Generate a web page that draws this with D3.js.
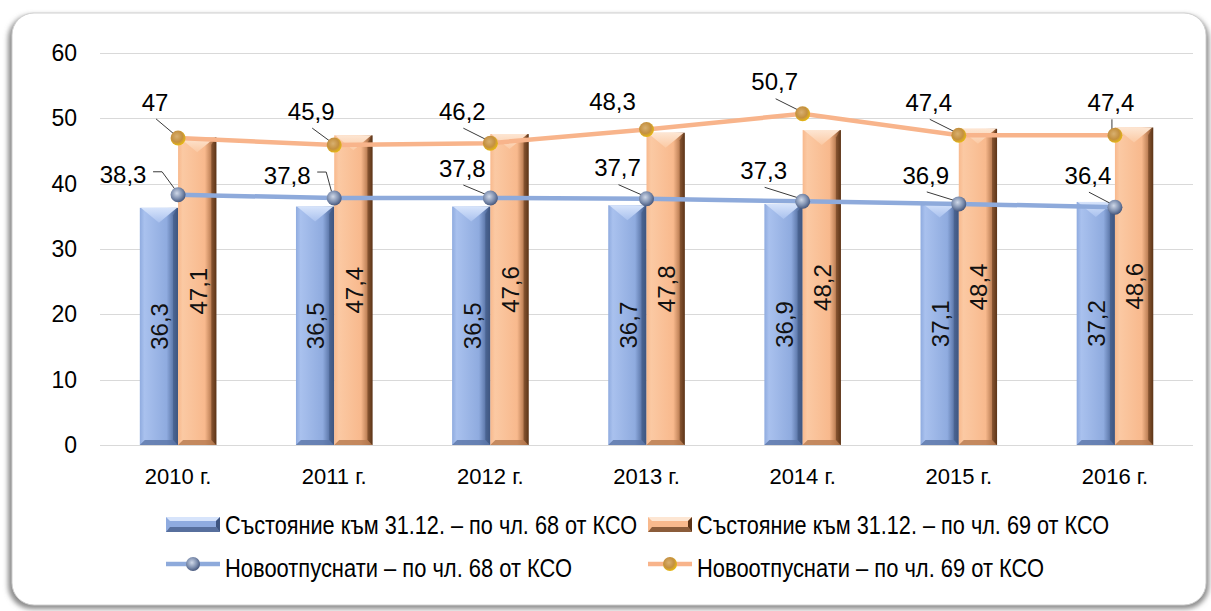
<!DOCTYPE html>
<html>
<head>
<meta charset="utf-8">
<script src="https://cdn.jsdelivr.net/npm/d3@7"></script>
<style>
  html, body { margin: 0; padding: 0; background: #fff; }
  svg { display: block; font-family: "Liberation Sans", Arial, sans-serif; }
</style>
</head>
<body>
<svg id="chart" width="1211" height="611"></svg>
<script>
// chart values
const years   = ["2010 г.", "2011 г.", "2012 г.", "2013 г.", "2014 г.", "2015 г.", "2016 г."];
const stock68 = [36.3, 36.5, 36.5, 36.7, 36.9, 37.1, 37.2];
const stock69 = [47.1, 47.4, 47.6, 47.8, 48.2, 48.4, 48.6];
const new68   = [38.3, 37.8, 37.8, 37.7, 37.3, 36.9, 36.4];
const new69   = [47, 45.9, 46.2, 48.3, 50.7, 47.4, 47.4];
const yTicks  = [0, 10, 20, 30, 40, 50, 60];
const legendNames = [
  "Състояние към 31.12. – по чл. 68 от КСО",
  "Състояние към 31.12. – по чл. 69 от КСО",
  "Новоотпуснати – по чл. 68 от КСО",
  "Новоотпуснати – по чл. 69 от КСО"
];

// label placement (offset of label centre from its marker), leader style
const off69 = [[-23,-36,"line"],[-23,-34,"line"],[-28,-32,"line"],[-34,-28,"none"],[-28,-32,"line"],[-30,-33,"line"],[-4,-33,"line"]];
const off68 = [[-55,-20,"hook"],[-47,-23,"hook"],[-28,-30,"line"],[-29,-31,"line"],[-39,-31,"line"],[-33,-29,"line"],[-27,-32,"line"]];

const fmt = v => String(v).replace(".", ",");

const svg = d3.select("#chart");
const defs = svg.append("defs");

// frame with soft shadow
const shadow = defs.append("filter").attr("id", "shadow")
  .attr("x", "-5%").attr("y", "-5%").attr("width", "110%").attr("height", "110%");
shadow.append("feGaussianBlur").attr("stdDeviation", 2.5);

svg.append("rect")
  .attr("x", 8).attr("y", 15).attr("width", 1201).attr("height", 594)
  .attr("rx", 24).attr("fill", "#8c8c8c").attr("filter", "url(#shadow)");
svg.append("rect")
  .attr("x", 12).attr("y", 13).attr("width", 1194).attr("height", 592)
  .attr("rx", 22).attr("fill", "#fff").attr("stroke", "#d0d0d0").attr("stroke-width", 1);

// scales
const y = d3.scaleLinear().domain([0, 60]).range([445, 53]);
const x = d3.scaleBand().domain(years).range([100, 1193]).padding(0);
const gw = x.bandwidth() * 0.49;
const x1 = d3.scaleBand().domain(["s68", "s69"])
  .range([x.bandwidth() / 2 - gw / 2, x.bandwidth() / 2 + gw / 2]);

// gridlines
svg.append("g").selectAll("line").data(yTicks).join("line")
  .attr("x1", 100).attr("x2", 1193)
  .attr("y1", d => Math.round(y(d)) + 0.5).attr("y2", d => Math.round(y(d)) + 0.5)
  .attr("stroke", "#d9d9d9").attr("stroke-width", 1);

// y axis labels
const yAxis = svg.append("g").attr("transform", "translate(100,0)")
  .call(d3.axisLeft(y).tickValues(yTicks).tickSize(0).tickPadding(23));
yAxis.select(".domain").remove();
yAxis.attr("font-size", 23).attr("font-family", "'Liberation Sans', Arial, sans-serif");
yAxis.selectAll("text").attr("fill", "#000");

// x axis labels
const xAxis = svg.append("g").attr("transform", "translate(0,445)")
  .call(d3.axisBottom(x).tickSize(0).tickPadding(23));
xAxis.select(".domain").remove();
xAxis.attr("font-size", 22).attr("font-family", "'Liberation Sans', Arial, sans-serif");
xAxis.selectAll("text").attr("fill", "#000");

// gradients for bars
const pal = {
  s68: { dark: "#3e5580", mid: "#8fabdf", light: "#a9c1ee", top: "#d7e4fb", bot: "#5b76a8" },
  s69: { dark: "#5c3417", mid: "#f8b98d", light: "#fbc9a3", top: "#fde6d3", bot: "#b77a50" }
};
Object.entries(pal).forEach(([k, c]) => {
  const g = defs.append("linearGradient").attr("id", "body-" + k)
    .attr("x1", 0).attr("x2", 1).attr("y1", 0).attr("y2", 0);
  g.append("stop").attr("offset", "0%").attr("stop-color", c.mid);
  g.append("stop").attr("offset", "12%").attr("stop-color", c.light);
  g.append("stop").attr("offset", "70%").attr("stop-color", c.mid);
  g.append("stop").attr("offset", "88%").attr("stop-color", c.bot);
  g.append("stop").attr("offset", "100%").attr("stop-color", c.dark);
  const t = defs.append("linearGradient").attr("id", "top-" + k)
    .attr("x1", 0).attr("x2", 0).attr("y1", 0).attr("y2", 1);
  t.append("stop").attr("offset", "0%").attr("stop-color", c.top);
  t.append("stop").attr("offset", "100%").attr("stop-color", c.light);
});

function bevelBar(g, k, bx, by, bw, bh, bt, bs) {
  const c = pal[k];
  g.append("rect").attr("x", bx).attr("y", by).attr("width", bw).attr("height", bh)
    .attr("fill", "url(#body-" + k + ")");
  // V shaped top face
  g.append("polygon")
    .attr("points", [[bx + 1, by], [bx + bw - 1, by], [bx + bw / 2, by + bt]].join(" "))
    .attr("fill", "url(#top-" + k + ")");
  // bottom bevel
  g.append("polygon")
    .attr("points", [[bx, by + bh], [bx + bw, by + bh], [bx + bw - bs, by + bh - bs], [bx + bs, by + bh - bs]].join(" "))
    .attr("fill", c.bot).attr("opacity", 0.8);
  // right edge
  g.append("polygon")
    .attr("points", [[bx + bw, by], [bx + bw, by + bh], [bx + bw - bs, by + bh - bs], [bx + bw - bs, by + bt * 0.5]].join(" "))
    .attr("fill", c.dark).attr("opacity", 0.55);
}

// bars
const barG = svg.append("g");
years.forEach((yr, i) => {
  [["s68", stock68[i]], ["s69", stock69[i]]].forEach(([k, v]) => {
    const bx = x(yr) + x1(k);
    bevelBar(barG, k, bx, y(v), x1.bandwidth(), y(0) - y(v), 15, 5);
    barG.append("text")
      .attr("transform", `translate(${bx + x1.bandwidth() / 2 + 1},${(y(v) + y(0)) / 2}) rotate(-90)`)
      .attr("text-anchor", "middle").attr("dy", "0.35em")
      .attr("font-size", 24).attr("fill", "#111")
      .text(fmt(v));
  });
});

// marker gradients
const mk = {
  n68: { c0: "#cfd8e8", c1: "#7d8eae", c2: "#44557a", line: "#8eaadb" },
  n69: { c0: "#d8b070", c1: "#c49040", c2: "#e8bb10", line: "#f8b48b" }
};
Object.entries(mk).forEach(([k, c]) => {
  const r = defs.append("radialGradient").attr("id", "mk-" + k)
    .attr("cx", "42%").attr("cy", "40%").attr("r", "62%");
  r.append("stop").attr("offset", "0%").attr("stop-color", c.c0);
  r.append("stop").attr("offset", "60%").attr("stop-color", c.c1);
  r.append("stop").attr("offset", "100%").attr("stop-color", c.c2);
});

const cx = i => x(years[i]) + x.bandwidth() / 2;
const line = d3.line().x((d, i) => cx(i)).y(d => y(d));

function drawSeries(vals, k, offs) {
  const g = svg.append("g");
  g.append("path").datum(vals).attr("d", line)
    .attr("fill", "none").attr("stroke", mk[k].line).attr("stroke-width", 4.5);
  vals.forEach((v, i) => {
    const px = cx(i), py = y(v);
    const [dx, dy, kind] = offs[i];
    const lx = px + dx, ly = py + dy;
    if (kind === "line") {
      g.append("line").attr("x1", lx + 1).attr("y1", ly + 17).attr("x2", px - 3).attr("y2", py - 3)
        .attr("stroke", "#3a3a3a").attr("stroke-width", 1);
    } else if (kind === "hook") {
      g.append("polyline")
        .attr("points", [[lx + 30, ly - 3], [lx + 39, ly - 3], [px - 2, py - 4]].join(" "))
        .attr("fill", "none").attr("stroke", "#3a3a3a").attr("stroke-width", 1);
    }
    g.append("circle").attr("cx", px).attr("cy", py).attr("r", 7.5)
      .attr("fill", "url(#mk-" + k + ")");
    g.append("text").attr("x", lx).attr("y", ly).attr("dy", "0.36em")
      .attr("text-anchor", "middle").attr("font-size", 24).attr("fill", "#000")
      .text(fmt(v));
  });
}
drawSeries(new68, "n68", off68);
drawSeries(new69, "n69", off69);

// legend
const leg = svg.append("g");
const legPos = [[166, 524], [648, 524], [166, 567], [648, 567]];
const legLen = [412, 412, 347, 347];
legendNames.forEach((name, i) => {
  const [lx, ly] = legPos[i];
  const w = i % 2 === 0 ? 54 : 44;
  if (i < 2) {
    const k = i === 0 ? "s68" : "s69";
    const c = pal[k];
    leg.append("rect").attr("x", lx).attr("y", ly - 7).attr("width", w).attr("height", 15)
      .attr("fill", c.mid);
    leg.append("polygon")
      .attr("points", [[lx, ly - 7], [lx + w, ly - 7], [lx + w - 4, ly - 3], [lx + 4, ly - 3]].join(" "))
      .attr("fill", c.top);
    leg.append("polygon")
      .attr("points", [[lx, ly + 8], [lx + w, ly + 8], [lx + w - 4, ly + 3], [lx + 4, ly + 3]].join(" "))
      .attr("fill", c.dark).attr("opacity", 0.7);
    leg.append("polygon")
      .attr("points", [[lx + w, ly - 7], [lx + w, ly + 8], [lx + w - 4, ly + 3], [lx + w - 4, ly - 3]].join(" "))
      .attr("fill", c.dark);
  } else {
    const k = i === 2 ? "n68" : "n69";
    leg.append("line").attr("x1", lx).attr("x2", lx + w).attr("y1", ly - 3).attr("y2", ly - 3)
      .attr("stroke", mk[k].line).attr("stroke-width", 4.5);
    leg.append("circle").attr("cx", lx + w / 2).attr("cy", ly - 3).attr("r", 7)
      .attr("fill", "url(#mk-" + k + ")");
  }
  leg.append("text").attr("x", i % 2 === 0 ? 225 : 697).attr("y", ly + 1).attr("dy", "0.35em")
    .attr("font-size", 25).attr("fill", "#000")
    .attr("textLength", legLen[i]).attr("lengthAdjust", "spacingAndGlyphs")
    .text(name);
});
</script>
</body>
</html>
